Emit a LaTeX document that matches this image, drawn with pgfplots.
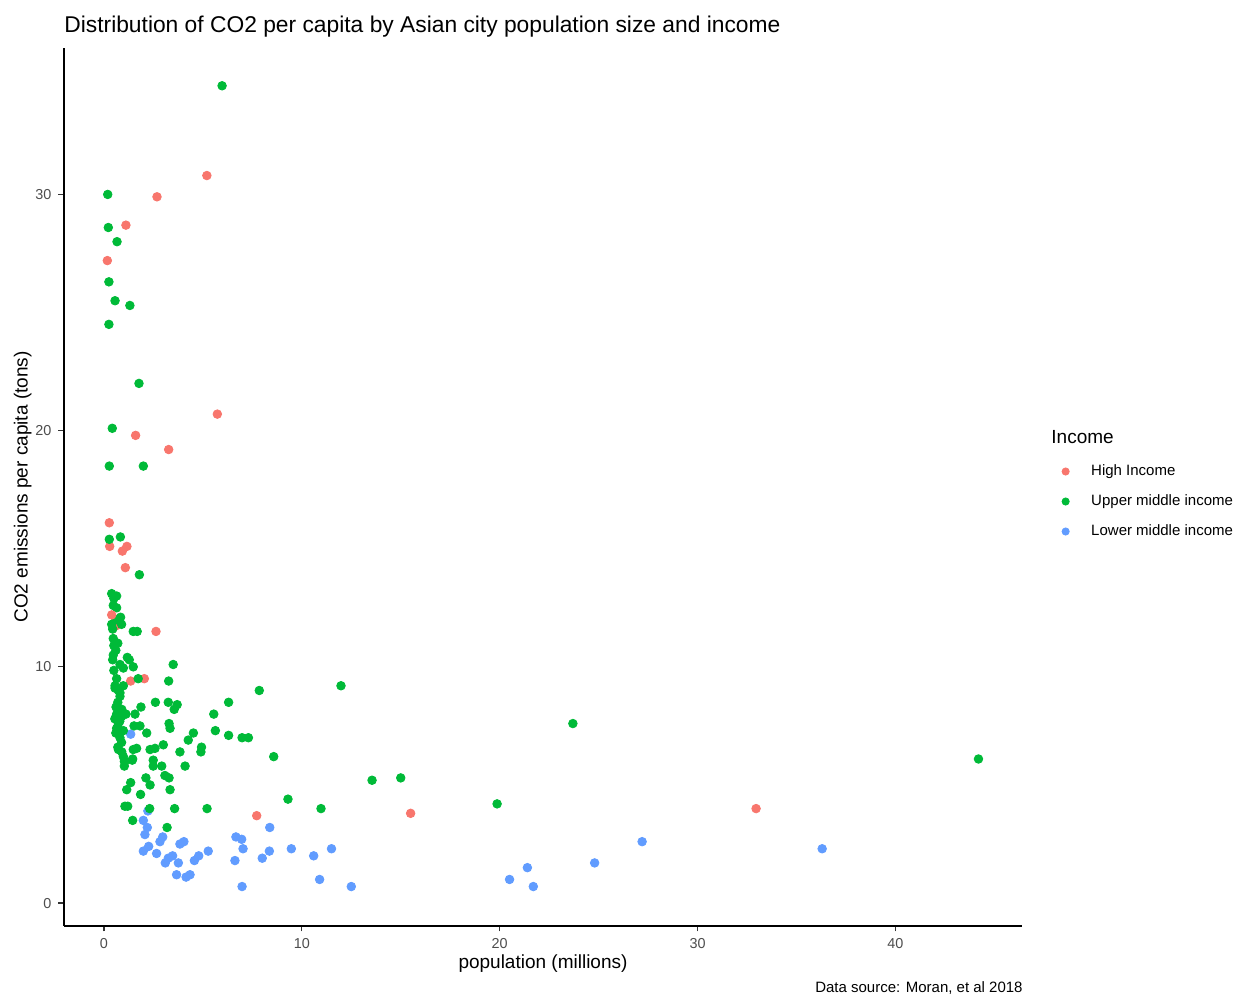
\documentclass[border=0pt]{standalone}
\usepackage{pgfplots}
\pgfplotsset{compat=1.18}
\usepackage{fontspec}
\setmainfont{Liberation Sans}

\definecolor{hiinc}{HTML}{F8766D}
\definecolor{upinc}{HTML}{00BA38}
\definecolor{loinc}{HTML}{619CFF}
\definecolor{ticktext}{HTML}{4D4D4D}

% population (millions), CO2 per capita (tons)
\pgfplotstableread{
x y
5.2 30.8
2.68 29.9
1.11 28.7
0.17 27.2
5.73 20.7
1.6 19.8
3.27 19.2
0.27 16.1
0.29 15.1
0.93 14.9
1.16 15.1
1.08 14.2
0.64 11.75
2.63 11.5
1.35 9.4
2.04 9.5
7.72 3.7
15.5 3.8
32.96 4.0
}\highinc

\pgfplotstableread{
x y
5.97 34.6
0.19 30.0
0.22 28.6
0.66 28.0
0.25 26.3
0.56 25.5
1.31 25.3
0.25 24.5
1.77 22.0
0.42 20.1
0.27 18.5
1.99 18.5
0.27 15.4
0.83 15.5
1.79 13.9
0.39 13.1
0.64 13.0
0.47 12.6
0.64 12.5
0.84 12.1
0.89 11.8
0.39 11.8
0.44 11.6
1.48 11.5
1.68 11.5
0.47 11.2
0.5 10.9
0.47 10.5
0.44 10.3
1.18 10.4
1.28 10.3
0.81 10.1
0.98 9.95
1.48 10.0
3.5 10.1
0.5 9.85
0.64 9.5
0.56 9.1
0.81 8.9
1.73 9.5
3.27 9.4
0.98 9.2
0.56 9.2
0.73 9.0
0.81 8.75
0.61 8.3
0.64 8.0
0.89 7.9
0.73 7.6
0.64 7.4
0.98 7.3
0.81 7.0
0.89 6.8
0.73 6.5
0.98 6.2
1.06 6.0
0.5 12.9
0.6 12.0
0.7 11.0
0.6 10.7
0.55 7.8
0.6 7.2
0.7 6.6
0.9 6.4
0.8 7.7
0.7 8.5
0.9 8.2
1.11 8.0
1.57 8.0
1.87 8.3
2.6 8.5
3.25 8.5
3.7 8.4
3.55 8.2
1.52 7.5
1.82 7.5
2.16 7.2
3.29 7.6
3.34 7.4
4.52 7.2
4.26 6.9
4.93 6.6
4.9 6.4
3.84 6.4
3.0 6.7
2.58 6.55
2.33 6.5
1.65 6.55
1.48 6.5
1.43 6.05
1.45 6.1
1.03 5.8
1.03 6.0
2.49 6.05
2.49 5.8
2.92 5.8
4.1 5.8
2.12 5.3
2.33 5.0
3.08 5.4
3.29 5.3
1.35 5.1
1.15 4.8
1.85 4.6
3.34 4.8
1.06 4.1
1.2 4.1
2.31 4.0
3.57 4.0
5.21 4.0
1.45 3.5
3.19 3.2
5.55 8.0
6.3 8.5
7.85 9.0
5.63 7.3
6.3 7.1
6.98 7.0
7.3 7.0
8.58 6.2
9.3 4.4
10.97 4.0
11.98 9.2
13.55 5.2
15.0 5.3
19.87 4.2
23.7 7.6
44.2 6.1
}\upperinc

\pgfplotstableread{
x y
36.3 2.3
27.2 2.6
24.8 1.7
21.4 1.5
20.5 1.0
21.7 0.7
12.5 0.7
10.9 1.0
10.6 2.0
11.5 2.3
9.47 2.3
8.38 3.2
8.36 2.2
8.0 1.9
7.03 2.3
6.67 2.8
6.96 2.7
6.62 1.8
6.98 0.7
5.27 2.2
4.79 2.0
4.57 1.8
3.47 2.0
3.25 1.9
3.1 1.7
3.76 1.7
3.67 1.2
4.15 1.1
4.35 1.2
3.84 2.5
4.04 2.6
2.97 2.8
2.83 2.6
2.26 2.4
1.99 2.2
2.66 2.1
2.22 3.9
1.99 3.5
2.19 3.2
2.07 2.9
1.35 7.15
}\lowerinc

\pgfplotstableread{
x y
0.39 12.2
}\highincfront

\begin{document}
\begin{tikzpicture}
\useasboundingbox (-32pt,-37.5pt) rectangle (595pt,463pt);
\begin{axis}[
  at={(0,0)}, anchor=south west,
  scale only axis,
  width=479pt, height=439pt,
  xmin=-2.02, xmax=46.4,
  ymin=-0.97, ymax=36.2,
  axis x line*=bottom, axis y line*=left,
  axis line style={-, line width=0.8pt, black},
  xtick={0,10,20,30,40},
  ytick={0,10,20,30},
  tick align=outside,
  major tick length=2.75pt,
  tick style={line width=0.6pt, black!80},
  ticklabel style={font=\fontsize{7.2}{8}\selectfont, text=ticktext},
  /pgf/number format/assume math mode=true,
  xlabel={population (millions)},
  ylabel={CO2 emissions per capita (tons)},
  label style={font=\fontsize{9.5}{11}\selectfont},
  xlabel style={yshift=4pt},
  ylabel style={yshift=-5pt},
  clip=false,
  legend cell align=left,
  legend style={
    at={(1.0418,0.5256)}, anchor=north west,
    draw=none, fill=none, inner sep=0pt, outer sep=0pt,
    font=\fontsize{7.5}{9}\selectfont,
    row sep=8pt,
    nodes={inner sep=0pt, text height=5.5pt, text depth=1.5pt},
    /tikz/every odd column/.append style={column sep=11pt},
  },
  legend image code/.code={\draw[#1, mark size=1.8pt] plot coordinates {(0pt,0pt)};},
]
\addlegendimage{only marks, mark=*, color=hiinc}
\addlegendentry{High Income}
\addlegendimage{only marks, mark=*, color=upinc}
\addlegendentry{Upper middle income}
\addlegendimage{only marks, mark=*, color=loinc}
\addlegendentry{Lower middle income}

\addplot[only marks, mark=*, mark size=2.15pt, color=loinc, forget plot] table {\lowerinc};
\addplot[only marks, mark=*, mark size=2.15pt, color=hiinc, forget plot] table {\highinc};
\addplot[only marks, mark=*, mark size=2.15pt, color=upinc, forget plot] table {\upperinc};
\addplot[only marks, mark=*, mark size=2.15pt, color=hiinc, forget plot] table {\highincfront};

\node[anchor=base west, font=\fontsize{9.5}{11}\selectfont, inner sep=0pt]
  at (rel axis cs:1.0303,0.5490) {Income};
\end{axis}
\node[anchor=base west, font=\fontsize{11.4}{13}\selectfont, inner sep=0pt] at (0pt,446.5pt)
  {Distribution of CO2 per capita by Asian city population size and income};
\node[anchor=base east, font=\fontsize{7.5}{9}\selectfont, inner sep=0pt] at (479.5pt,-33.5pt)
  {Data source: Moran, et al 2018};
\end{tikzpicture}
\end{document}
